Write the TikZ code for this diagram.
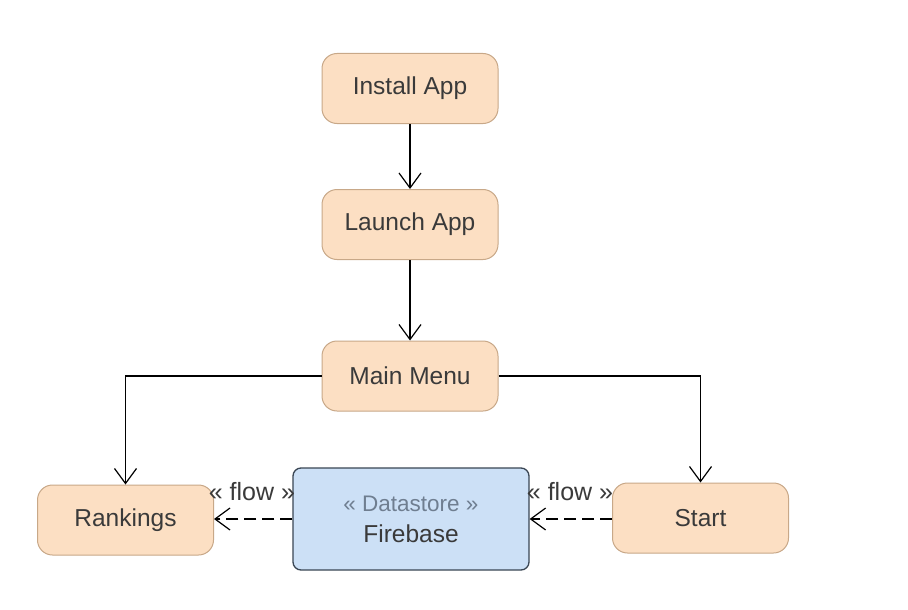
\documentclass[tikz,border=0pt]{standalone}
\usepackage{fontspec}
\setmainfont{Liberation Sans}
\usetikzlibrary{arrows.meta}
\definecolor{peach}{HTML}{FCDFC3}
\definecolor{peachline}{HTML}{C8A888}
\definecolor{bluefill}{HTML}{CCE0F6}
\definecolor{blueline}{HTML}{3A4654}
\definecolor{txt}{HTML}{3A3A3A}
\definecolor{stereo}{HTML}{6F7E90}
\tikzset{
  state/.style={draw=peachline, line width=1pt, fill=peach, rounded corners=15pt,
    minimum width=176pt, minimum height=70pt, text=txt, font=\fontsize{24.5}{28}\selectfont},
  store/.style={draw=blueline, line width=1.3pt, fill=bluefill, rounded corners=8pt,
    minimum width=236pt, minimum height=102pt, text=txt, align=center, font=\fontsize{24.5}{31}\selectfont},
  flowarrow/.style={line width=1.2pt, -{Straight Barb[length=15pt,width=22pt]}},
  dep/.style={flowarrow, dashed, dash pattern=on 12pt off 6pt},
  lbl/.style={text=txt, font=\fontsize{25}{28}\selectfont, inner sep=0pt}
}
\begin{document}
\begin{tikzpicture}[x=1pt,y=-1pt]
\path[use as bounding box, fill=white] (0,0) rectangle (908,610);
\node[state] (install) at (410,88.5) {Install App};
\node[state] (launch) at (410,224.5) {Launch App};
\node[state] (menu) at (410,376) {Main Menu};
\node[state] (rank) at (125.5,520) {Rankings};
\node[state] (start) at (700.5,518) {Start};
\node[store] (fire) at (411,519) {{\color{stereo}\fontsize{22.5}{31}\selectfont « Datastore »}\\Firebase};
\draw[flowarrow] (install) -- (launch);
\draw[flowarrow] (launch) -- (menu);
\draw[flowarrow] (menu.west) -| (rank.north);
\draw[flowarrow] (menu.east) -| (start.north);
\draw[dep] (fire.west |- 0,519) -- (rank.east |- 0,519);
\draw[dep] (start.west |- 0,519) -- (fire.east |- 0,519);
\node[lbl] (fl1) at (252,492) {« flow »};
\node[lbl] (fl2) at (570,492) {« flow »};
\end{tikzpicture}
\end{document}
